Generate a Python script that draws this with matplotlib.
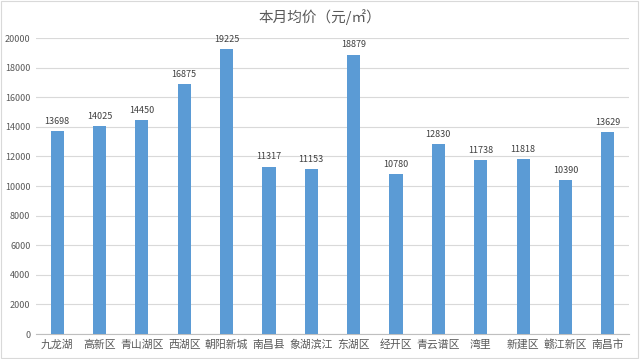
import matplotlib
matplotlib.use("Agg")
import matplotlib.pyplot as plt
from matplotlib.patches import Rectangle

plt.rcParams['font.family'] = ['Noto Sans CJK SC', 'DejaVu Sans']

categories = ["九龙湖", "高新区", "青山湖区", "西湖区", "朝阳新城", "南昌县", "象湖滨江",
              "东湖区", "经开区", "青云谱区", "湾里", "新建区", "赣江新区", "南昌市"]
values = [13698, 14025, 14450, 16875, 19225, 11317, 11153, 18879, 10780, 12830, 11738, 11818, 10390, 13629]
yticks = [0, 2000, 4000, 6000, 8000, 10000, 12000, 14000, 16000, 18000, 20000]
title = "本月均价（元/㎡）"

fig = plt.figure(figsize=(6.4, 3.59), dpi=100)
ax = fig.add_axes([0.05625, 0.0696, 0.9265, 0.8245])

x = list(range(len(categories)))
ax.bar(x, values, width=0.31, color="#5B9BD5", zorder=3)
for xi, v in zip(x, values):
    ax.text(xi, v + 350, str(v), ha="center", va="bottom", fontsize=6.5, color="#404040", zorder=4)

ax.set_xlim(-0.5, len(categories) - 0.5)
ax.set_ylim(0, 20000)
ax.set_yticks(yticks)
ax.set_yticklabels([str(t) for t in yticks], fontsize=6.5, color="#595959")
ax.set_xticks(x)
ax.set_xticklabels(categories, fontsize=7.8, color="#595959")
ax.tick_params(axis="both", length=0, pad=4)
ax.grid(axis="y", color="#D9D9D9", linewidth=0.8, zorder=0)
for s in ["top", "right", "left"]:
    ax.spines[s].set_visible(False)
ax.spines["bottom"].set_color("#BFBFBF")
ax.spines["bottom"].set_linewidth(0.8)

fig.text(0.5, 0.952, title, ha="center", va="center", fontsize=10.5, color="#595959")

fig.patches.append(Rectangle((0.002, 0.003), 0.995, 0.993, transform=fig.transFigure,
                             fill=False, edgecolor="#D9D9D9", linewidth=0.8))

fig.savefig("out.png", dpi=100, facecolor="white")
